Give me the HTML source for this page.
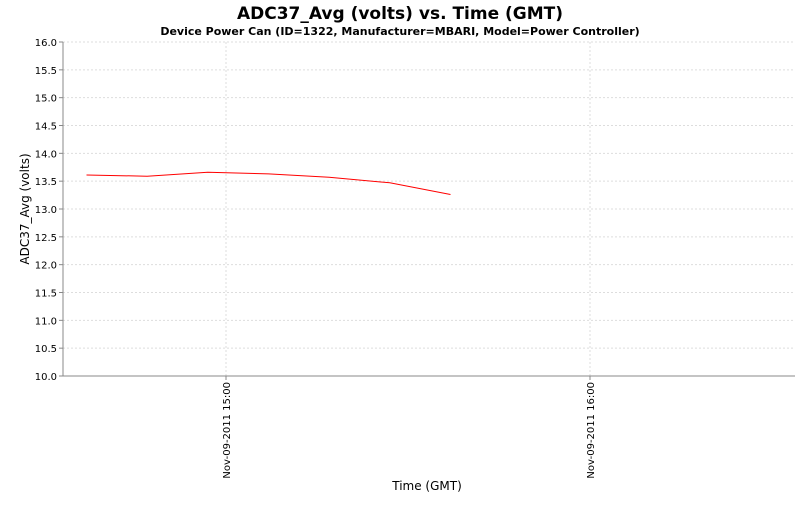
<!DOCTYPE html>
<html><head><meta charset="utf-8"><style>
body{margin:0;background:#fff;}
svg text{font-family:"DejaVu Sans","Liberation Sans",sans-serif;}
</style></head><body>
<svg width="800" height="500" xmlns="http://www.w3.org/2000/svg">
<rect width="800" height="500" fill="#fff"/>
<text x="400" y="19" text-anchor="middle" font-size="17" font-weight="bold">ADC37_Avg (volts) vs. Time (GMT)</text>
<text x="400" y="35" text-anchor="middle" font-size="11" font-weight="bold">Device Power Can (ID=1322, Manufacturer=MBARI, Model=Power Controller)</text>
<g id="grid"></g>
<g id="yticks"></g>
<g id="xticks"></g>
<line x1="63" y1="42" x2="63" y2="376" stroke="#888"/>
<line x1="63" y1="376" x2="795" y2="376" stroke="#888"/>
<path id="series" fill="none" stroke="#f00" stroke-width="1"/>
<text transform="translate(29,209) rotate(-90)" text-anchor="middle" font-size="12">ADC37_Avg (volts)</text>
<text x="427" y="490" text-anchor="middle" font-size="12">Time (GMT)</text>
</svg>
<script>
const minutesFrom1500 = [-23, -13, -3, 7, 17, 27, 37];
const voltValues = [13.61, 13.59, 13.66, 13.63, 13.57, 13.47, 13.26];
const yTickValues = [10.0,10.5,11.0,11.5,12.0,12.5,13.0,13.5,14.0,14.5,15.0,15.5,16.0];
const xTickMinutes = [0, 60];
const xTickLabels = ["Nov-09-2011 15:00", "Nov-09-2011 16:00"];

const NS = "http://www.w3.org/2000/svg";
const yScale = v => 376 - (v - 10) / 6 * 334;
const xScale = m => 226 + m / 60 * 364;
const grid = document.getElementById('grid');
const yt = document.getElementById('yticks');
const xt = document.getElementById('xticks');
function mk(tag, attrs){const e=document.createElementNS(NS,tag);for(const k in attrs)e.setAttribute(k,attrs[k]);return e;}
yTickValues.forEach(v=>{
  const y=yScale(v);
  if(v>10){const g=mk('line',{x1:63,x2:795,y1:y,y2:y,stroke:'#ddd','stroke-dasharray':'2,2'});
  
  
  grid.appendChild(g);}
  const t=mk('line',{x1:59,x2:63,y1:y,y2:y,stroke:'#888'});
  
  
  yt.appendChild(t);
  const l=mk('text',{x:57,y:y+4,'text-anchor':'end','font-size':'10'});
  
  
  l.textContent=v.toFixed(1);yt.appendChild(l);
});
xTickMinutes.forEach((m,i)=>{
  const x=xScale(m);
  const g=mk('line',{x1:x,x2:x,y1:42,y2:376,stroke:'#ddd','stroke-dasharray':'2,2'});
  
  
  grid.appendChild(g);
  const t=mk('line',{x1:x,x2:x,y1:376,y2:380,stroke:'#888'});
  
  
  xt.appendChild(t);
  const l=mk('text',{transform:`translate(${x+4},382) rotate(-90)`,'text-anchor':'end','font-size':'10'});
  
  
  l.textContent=xTickLabels[i];xt.appendChild(l);
});
document.getElementById('series').setAttribute('d',
  minutesFrom1500.map((m,i)=>(i?'L':'M')+xScale(m).toFixed(1)+','+yScale(voltValues[i]).toFixed(1)).join(' '));
</script>
</body></html>
